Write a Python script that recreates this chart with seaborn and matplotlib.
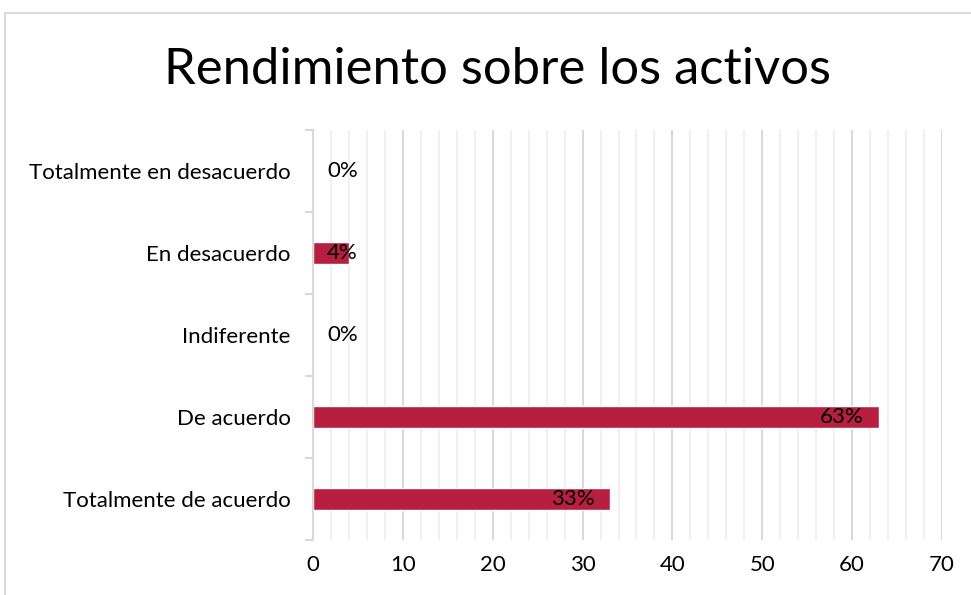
import matplotlib
matplotlib.use("Agg")
import matplotlib.pyplot as plt
import seaborn as sns
import pandas as pd
from matplotlib.patches import Rectangle
from matplotlib.ticker import MultipleLocator, FixedLocator, NullFormatter

categories = [
    "Totalmente en desacuerdo",
    "En desacuerdo",
    "Indiferente",
    "De acuerdo",
    "Totalmente de acuerdo",
]
values = [0, 4, 0, 63, 33]
labels = ["0%", "4%", "0%", "63%", "33%"]

title = "Rendimiento sobre los activos"
bar_color = "#B71F41"
grid_major = "#d9d9d9"
grid_minor = "#f0f0f0"

sns.set_theme(style="white")
plt.rcParams["font.family"] = ["Lato", "DejaVu Sans"]

df = pd.DataFrame({"cat": categories, "val": values})

fig = plt.figure(figsize=(9.71, 5.95), dpi=100)
ax = fig.add_axes([313 / 971, 1 - 540 / 595, (942 - 313) / 971, (540 - 130) / 595])

# chart area border (cropped screenshot, only left/top visible)
fig.patches.append(Rectangle((5 / 971, -0.1), 1.2, 1.1 - 13 / 595,
                             transform=fig.transFigure, fill=False,
                             edgecolor="#d9d9d9", linewidth=1.5, zorder=0))

sns.barplot(data=df, x="val", y="cat", orient="h", color=bar_color,
            width=0.27, ax=ax, zorder=3, saturation=1)

ax.set_xlim(0, 70)
ax.set_ylim(4.5, -0.5)
ax.xaxis.set_major_locator(MultipleLocator(10))
ax.xaxis.set_minor_locator(MultipleLocator(2))
ax.grid(axis="x", which="major", color=grid_major, linewidth=1.5, zorder=0)
ax.grid(axis="x", which="minor", color=grid_minor, linewidth=1.5, zorder=0)
ax.set_axisbelow(True)

for side in ["top", "right", "bottom"]:
    ax.spines[side].set_visible(False)
ax.spines["left"].set_color(grid_major)
ax.spines["left"].set_linewidth(1.5)
ax.spines["left"].set_zorder(4)

ax.yaxis.set_minor_locator(FixedLocator([-0.5, 0.5, 1.5, 2.5, 3.5, 4.5]))
ax.yaxis.set_minor_formatter(NullFormatter())
ax.tick_params(axis="y", which="minor", left=True, length=6, width=1.5, color=grid_major)
ax.tick_params(axis="y", which="major", left=False, length=0, pad=16, labelsize=16, labelcolor="#000000")
ax.tick_params(axis="x", which="both", bottom=False, length=0, pad=11, labelsize=16, labelcolor="#000000")

ax.set_xlabel("")
ax.set_ylabel("")

for i, (v, lab) in enumerate(zip(values, labels)):
    xpos = max(v - 1.7, 5.0)
    ax.text(xpos, i, lab, ha="right", va="center", fontsize=16, color="#000000", zorder=5)

fig.text(497 / 971, 1 - 70 / 595, title, ha="center", va="center", fontsize=36.5, color="#000000")

fig.savefig("out.png", dpi=100)
